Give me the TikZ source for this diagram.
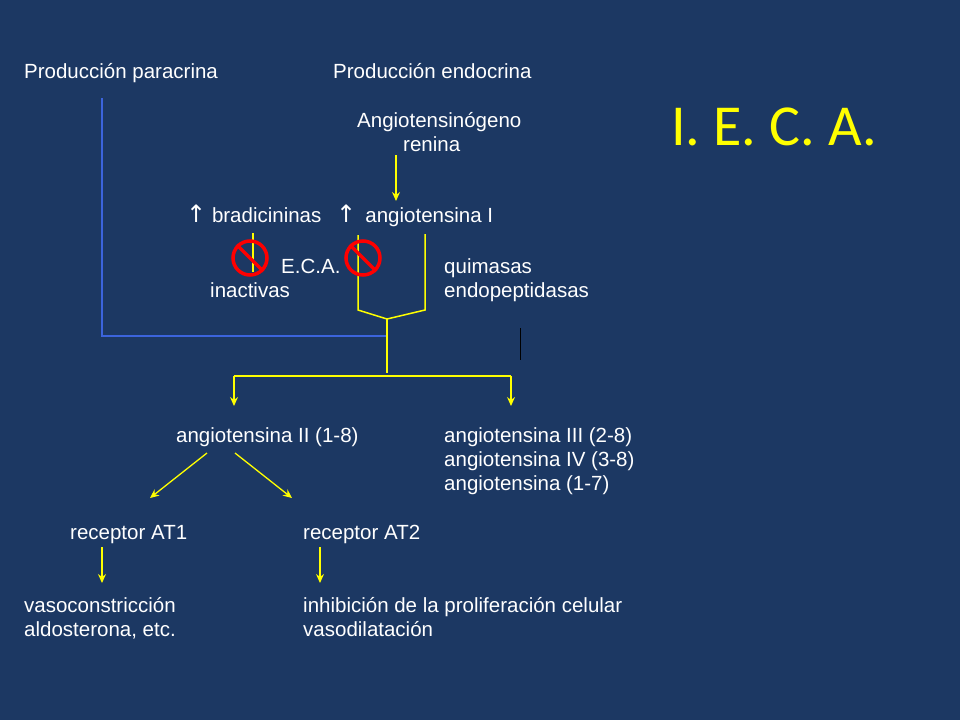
\documentclass[tikz,border=0pt]{standalone}
\usepackage{fontspec}
\setmainfont{Liberation Sans}
\newfontfamily\titlefont{Carlito}
\newfontfamily\symfont{DejaVu Sans}
\usetikzlibrary{arrows.meta}
\definecolor{bg}{RGB}{28,56,99}
\definecolor{yl}{RGB}{255,255,0}
\definecolor{bl}{RGB}{60,100,220}
\tikzset{x=1pt,y=-1pt,
 t/.style={text=white,font=\fontsize{20.5}{24}\selectfont,anchor=base west,inner sep=0},
 yline/.style={draw=yl,line width=1.5pt},
 yarr/.style={draw=yl,line width=1.3pt,-{Stealth[length=9pt,width=8pt]}},
 nosign/.style={circle,draw=red,line width=3.5pt,minimum size=34pt,inner sep=0}}
\begin{document}
\begin{tikzpicture}
\fill[bg] (0,0) rectangle (960,720);
\useasboundingbox (0,0) rectangle (960,720);
\node[t] (pp) at (24,78) {Producción paracrina};
\node[t] (pe) at (333,78) {Producción endocrina};
\node[t] (ag) at (357,127) {Angiotensinógeno};
\node[t] (re) at (403,151) {renina};
\node[text=yl,font=\titlefont\fontsize{58}{62}\selectfont,anchor=base west,inner sep=0] (ti) at (671,145) {I. E. C. A.};
\node[t] (br) at (186,222) {{\symfont\fontsize{24}{24}\selectfont↑} bradicininas};
\node[t] (a1) at (336,222) {{\symfont\fontsize{24}{24}\selectfont↑}\, angiotensina I};
\node[t] (eca) at (281,273) {E.C.A.};
\node[t] (in) at (210,297) {inactivas};
\node[t] (qu) at (444,273) {quimasas};
\node[t] (en) at (444,297) {endopeptidasas};
\node[t] (a2) at (176,442) {angiotensina II (1-8)};
\node[t] (a3) at (444,442) {angiotensina III (2-8)};
\node[t] (a4) at (444,466) {angiotensina IV (3-8)};
\node[t] (a7) at (444,490) {angiotensina (1-7)};
\node[t] (r1) at (70,539) {receptor AT1};
\node[t] (r2) at (303,539) {receptor AT2};
\node[t] (v1) at (24,612) {vasoconstricción};
\node[t] (v2) at (24,636) {aldosterona, etc.};
\node[t] (i1) at (303,612) {inhibición de la proliferación celular};
\node[t] (i2) at (303,636) {vasodilatación};
% blue lines
\coordinate (j) at (387,319);
\coordinate (jb) at (387,336);
\draw[bl,line width=1.5pt] (102,98) -- (102,336) -- (jb);
\draw[black,line width=1pt] (520,328) -- (520,360);
% yellow
\draw[yarr] (396,155) -- (396,201);
\draw[yline] (253,233) -- (253,272);
\draw[yline] (358,235) -- (358,310) -- (j) -- (425,310) -- (425,234);
\draw[yline] (j) -- (387,373);
\coordinate (hl) at (234,376); \coordinate (hr) at (511,376);
\draw[yline] (hl) -- (hr);
\draw[yarr] (hl) -- (234,406);
\draw[yarr] (hr) -- (511,406);
\draw[yarr] (207,453) -- (150,498);
\draw[yarr] (235,453) -- (292,498);
\draw[yarr] (102,547) -- (102,583);
\draw[yarr] (320,547) -- (320,583);
% no signs
\foreach \n/\cx in {s1/250,s2/363}{
 \node[nosign] (\n) at (\cx,258) {};
 \draw[red,line width=3.5pt] (\n.north west) -- (\n.south east);
}
\end{tikzpicture}
\end{document}
